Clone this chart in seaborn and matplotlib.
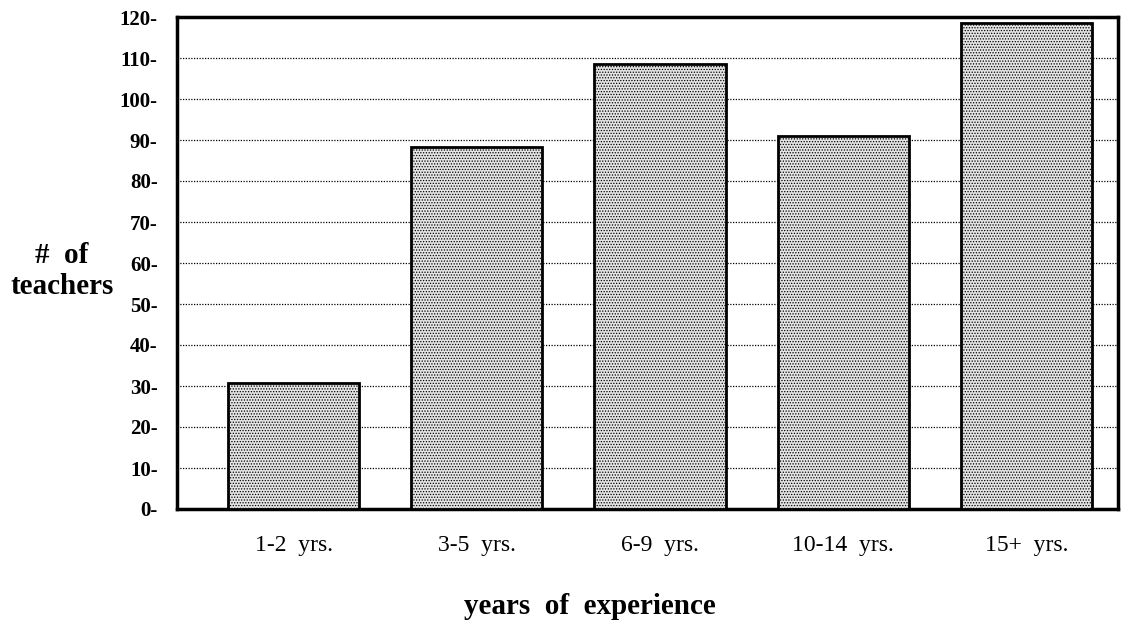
import matplotlib
matplotlib.use("Agg")
import matplotlib.pyplot as plt
import seaborn as sns
import pandas as pd

categories = ["1-2  yrs.", "3-5  yrs.", "6-9  yrs.", "10-14  yrs.", "15+  yrs."]
teachers = [30.7, 88.3, 108.5, 91.0, 118.5]
yticks = [0, 10, 20, 30, 40, 50, 60, 70, 80, 90, 100, 110, 120]

sns.set_theme(style="white")
plt.rcParams["font.family"] = ["Liberation Serif", "DejaVu Serif"]
plt.rcParams["hatch.color"] = "#959595"
plt.rcParams["hatch.linewidth"] = 0.6
plt.rcParams["text.color"] = "black"
plt.rcParams["xtick.color"] = "black"
plt.rcParams["ytick.color"] = "black"

df = pd.DataFrame({"cat": categories, "n": teachers})

fig = plt.figure(figsize=(11.24, 6.29), dpi=100)
ax = fig.add_axes([177/1124, 1 - 509/629, (1118-177)/1124, (509-17)/629])

sns.barplot(data=df, x="cat", y="n", ax=ax, color="#e4e4e4", width=0.716,
            edgecolor="black", linewidth=2, saturation=1, zorder=3)
for p in ax.patches:
    p.set_hatch("......")

ax.set_xlim(-0.637, 4.5)
ax.set_ylim(0, 120)
ax.set_yticks(yticks)
ax.set_yticklabels([f"{t}-" for t in yticks], fontsize=15, fontweight="bold")
ax.tick_params(axis="both", length=0, labelcolor="black")
ax.tick_params(axis="y", pad=14)
ax.tick_params(axis="x", pad=19, labelsize=17)

for t in yticks[1:-1]:
    ax.axhline(t, color="black", linestyle=(0, (1, 1.2)), linewidth=0.9, zorder=1)

for s in ax.spines.values():
    s.set_visible(True)
    s.set_color("black")
    s.set_linewidth(2.5)

ax.set_xlabel("")
ax.set_ylabel("")
fig.text(590/1124, 1 - 606/629, "years  of  experience", ha="center", va="center",
         fontsize=21, fontweight="bold")
fig.text(62/1124, 1 - 271/629, "#  of\nteachers", ha="center", va="center",
         fontsize=21, fontweight="bold", linespacing=1.2)

fig.savefig("out.png", dpi=100, facecolor="white")
